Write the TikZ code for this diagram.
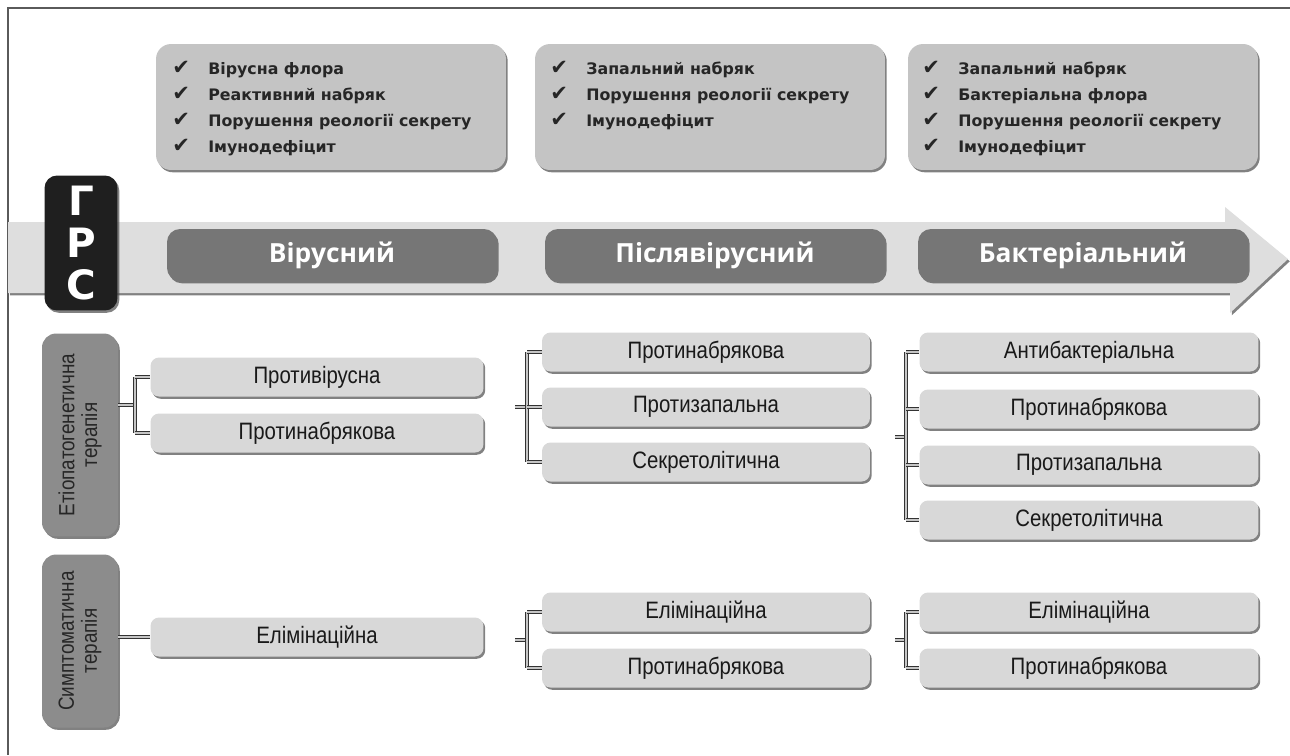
\documentclass[tikz,border=0pt]{standalone}
\usepackage{fontspec}
\usepackage{tikz}
\usetikzlibrary{shapes,positioning,calc,shadows}
\setmainfont{Liberation Sans}
\newfontfamily\narrowfont{Liberation Sans}[FakeStretch=0.86]
\newfontfamily\listfont{DejaVu Sans}
\newfontfamily\phasefont{Open Sans}
\definecolor{topgray}{RGB}{196,196,196}
\definecolor{optgray}{RGB}{216,216,216}
\definecolor{phasegray}{RGB}{118,118,118}
\definecolor{labelgray}{RGB}{140,140,140}
\definecolor{bandgray}{RGB}{222,222,222}
\definecolor{framegray}{RGB}{90,90,90}
\newcommand{\chk}{\makebox[0.72cm][l]{\listfont\fontsize{12}{12}\selectfont ✔}}

\begin{document}
\begin{tikzpicture}[
    x=0.02cm, y=-0.02cm,
    shade/.style={drop shadow={shadow xshift=1pt, shadow yshift=-1.3pt, fill=black!70, opacity=0.7}},
    topbox/.style={rectangle, rounded corners=0.3cm, fill=topgray, minimum width=7cm, minimum height=2.52cm, shade},
    listtext/.style={anchor=north west, align=left, inner sep=0pt, text=black!85, font=\listfont\bfseries\fontsize{9}{14.8}\selectfont},
    phase/.style={rectangle, rounded corners=0.26cm, fill=phasegray, minimum height=1.04cm, text=white, font=\phasefont\bfseries\fontsize{15}{18}\selectfont, shade},
    sidebox/.style={rectangle, rounded corners=0.28cm, fill=labelgray, minimum width=1.52cm, shade},
    sidetext/.style={rotate=90, align=center, text=black!85, font=\narrowfont\fontsize{12.5}{13}\selectfont},
    optbox/.style={rectangle, rounded corners=0.17cm, fill=optgray, minimum height=0.78cm, text=black!90, font=\narrowfont\fontsize{13.5}{15}\selectfont, shade},
    optA/.style={optbox, minimum width=6.66cm},
    optB/.style={optbox, minimum width=6.56cm},
    optC/.style={optbox, minimum width=6.78cm},
    link/.style={draw=black!80, line width=0.8pt, double=gray!45, double distance=0.8pt}
]
\useasboundingbox (0,0) rectangle (1290,755);

% Frame
\draw[framegray, line width=1.2pt] (1290,8) -- (8,8) -- (8,755);

% Top boxes
\node[topbox] (top1) at (331,107) {};
\node[topbox] (top2) at (710,107) {};
\node[topbox] (top3) at (1083,107) {};
\node[listtext] (list1) at (172,61) {\chk Вірусна флора\\\chk Реактивний набряк\\\chk Порушення реології секрету\\\chk Імунодефіцит};
\node[listtext] (list2) at (550,61) {\chk Запальний набряк\\\chk Порушення реології секрету\\\chk Імунодефіцит};
\node[listtext] (list3) at (922,61) {\chk Запальний набряк\\\chk Бактеріальна флора\\\chk Порушення реології секрету\\\chk Імунодефіцит};

% Time arrow
\path[fill=bandgray, shade] (8,222) -- (1225,222) -- (1225,207) -- (1288,259) -- (1230,313) -- (1230,293) -- (8,293) -- cycle;

% GRS
\node[rectangle, rounded corners=0.25cm, fill=black!88, minimum width=1.46cm, minimum height=2.7cm, shade] (grs) at (81,243) {};
\node[align=center, text=white, font=\listfont\bfseries\fontsize{23}{24}\selectfont] (grstext) at (grs.center) {Г\\Р\\С};

% Phases
\node[phase, minimum width=6.6cm] (vir) at (332,255) {Вірусний};
\node[phase, minimum width=6.8cm] (postvir) at (715,255) {Післявірусний};
\node[phase, minimum width=6.6cm] (bact) at (1083,255) {Бактеріальний};

% Side labels
\node[sidebox, minimum height=4.06cm] (etio) at (80,435) {};
\node[sidetext] (etiotext) at (etio.center) {Етіопатогенетична\\терапія};
\node[sidebox, minimum height=3.46cm] (symp) at (80,641) {};
\node[sidetext] (symptext) at (symp.center) {Симптоматична\\терапія};

% Etiopathogenetic therapy
\node[optA] (a1) at (317,377) {Противірусна};
\node[optA] (a2) at (317,433) {Протинабрякова};
\node[optB] (b1) at (706,352) {Протинабрякова};
\node[optB] (b2) at (706,407) {Протизапальна};
\node[optB] (b3) at (706,462) {Секретолітична};
\node[optC] (c1) at (1089,352) {Антибактеріальна};
\node[optC] (c2) at (1089,409) {Протинабрякова};
\node[optC] (c3) at (1089,465) {Протизапальна};
\node[optC] (c4) at (1089,520) {Секретолітична};

% Symptomatic therapy
\node[optA] (a3) at (317,637) {Елімінаційна};
\node[optB] (b4) at (706,612) {Елімінаційна};
\node[optB] (b5) at (706,668) {Протинабрякова};
\node[optC] (c5) at (1089,612) {Елімінаційна};
\node[optC] (c6) at (1089,668) {Протинабрякова};

% Brackets
\coordinate (ja) at (135,405);
\draw[link] (etio.east |- ja) -- (ja);
\draw[link] (ja |- a1.west) -- (ja |- a2.west);
\draw[link] (ja |- a1.west) -- (a1.west);
\draw[link] (ja |- a2.west) -- (a2.west);

\coordinate (jb) at (527,407);
\coordinate (fb) at (515,407);
\draw[link] (fb) -- (jb);
\draw[link] (jb |- b1.west) -- (jb |- b3.west);
\foreach \n in {b1,b2,b3} \draw[link] (jb |- \n.west) -- (\n.west);

\coordinate (jc) at (906,437);
\coordinate (fc) at (895,437);
\draw[link] (fc) -- (jc);
\draw[link] (jc |- c1.west) -- (jc |- c4.west);
\foreach \n in {c1,c2,c3,c4} \draw[link] (jc |- \n.west) -- (\n.west);

\draw[link] (symp.east |- a3.west) -- (a3.west);

\coordinate (jd) at (527,640);
\coordinate (fd) at (515,640);
\draw[link] (fd) -- (jd);
\draw[link] (jd |- b4.west) -- (jd |- b5.west);
\foreach \n in {b4,b5} \draw[link] (jd |- \n.west) -- (\n.west);

\coordinate (je) at (906,640);
\coordinate (fe) at (895,640);
\draw[link] (fe) -- (je);
\draw[link] (je |- c5.west) -- (je |- c6.west);
\foreach \n in {c5,c6} \draw[link] (je |- \n.west) -- (\n.west);

\end{tikzpicture}
\end{document}
